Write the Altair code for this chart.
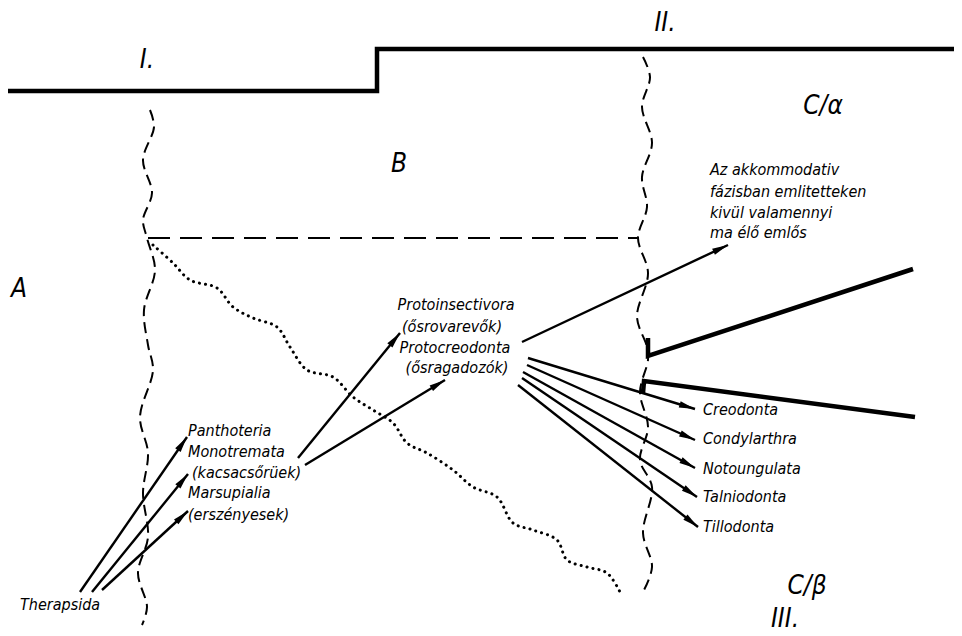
import altair as alt
import pandas as pd
import numpy as np

# ---------------- diagram data (x to the right, y downward) ----------------
step_x = [5, 377, 377, 957]
step_y = [91, 91, 49, 49]

bound1_x = [150, 154, 143, 152, 143, 147, 155, 144, 148, 153, 140, 148, 143, 148, 138, 147, 142]
bound1_y = [110, 127, 160, 193, 220, 238, 270, 310, 345, 370, 417, 453, 493, 537, 573, 607, 625]

bound2_x = [643, 650, 642, 652, 642, 647, 638, 648, 637, 647, 648, 640, 648, 640, 652, 643, 652, 643]
bound2_y = [57, 77, 107, 143, 177, 207, 238, 273, 317, 347, 360, 392, 427, 460, 487, 533, 567, 592]

hdash_x = [148, 638]
hdash_y = [238, 238]

dot_x = [153, 173, 190, 217, 233, 253, 277, 290, 307, 333, 353, 373, 393, 407, 427, 453, 473, 497,
         513, 533, 557, 567, 587, 607, 620]
dot_y = [245, 263, 280, 288, 307, 318, 327, 347, 370, 377, 397, 410, 423, 443, 453, 470, 487, 497,
         523, 530, 540, 560, 567, 573, 592]

arrow_x1 = [80, 92, 102, 298, 305, 522, 528, 527, 523, 522, 518]
arrow_y1 = [592, 592, 590, 458, 465, 342, 358, 365, 372, 378, 385]
arrow_x2 = [187, 188, 188, 400, 445, 728, 695, 695, 695, 697, 698]
arrow_y2 = [437, 474, 511, 333, 380, 245, 409, 440, 468, 497, 527]

thick_seg = [0, 0, 0, 1, 1, 1]
thick_x = [648, 648, 913, 643, 644, 915]
thick_y = [338, 356, 269, 393, 381, 417]

small_text = ["Therapsida",
              "Panthoteria", "Monotremata", "(kacsacsőrüek)", "Marsupialia", "(erszényesek)",
              "Az akkommodativ", "fázisban emlitetteken", "kivül valamennyi", "ma élő emlős",
              "Creodonta", "Condylarthra", "Notoungulata", "Talniodonta", "Tillodonta"]
small_x = [20, 188, 188, 192, 188, 188, 710, 710, 710, 710, 703, 703, 703, 703, 703]
small_y = [605, 431, 452, 473, 493, 515, 170, 192, 213, 233, 410, 439, 469, 497, 527]

center_text = ["Protoinsectivora", "(ősrovarevők)", "Protocreodonta", "(ősragadozók)"]
center_x = [456, 452, 455, 457]
center_y = [305, 327, 348, 368]

big_text = ["I.", "II.", "III.", "A", "B", "C/α", "C/β"]
big_x = [147, 665, 785, 19, 399, 823, 807]
big_y = [60, 23, 619, 289, 164, 106, 586]

# ---------------- scales ----------------
W, H = 946, 626
xs = alt.Scale(domain=[8, 8 + W], nice=False, zero=False)
ys = alt.Scale(domain=[8, 8 + H], nice=False, zero=False, reverse=True)
X = lambda f: alt.X(f, type="quantitative", scale=xs, axis=None)
Y = lambda f: alt.Y(f, type="quantitative", scale=ys, axis=None)
X2 = lambda f: alt.X2(f)
Y2 = lambda f: alt.Y2(f)


def path_df(xv, yv):
    return pd.DataFrame({"x": xv, "y": yv, "i": list(range(len(xv)))})


step = alt.Chart(path_df(step_x, step_y)).mark_line(
    color="black", strokeWidth=4.5, strokeJoin="miter"
).encode(x=X("x"), y=Y("y"), order="i:Q")

bound1 = alt.Chart(path_df(bound1_x, bound1_y)).mark_line(
    color="black", strokeWidth=2, strokeDash=[11, 6], interpolate="catmull-rom"
).encode(x=X("x"), y=Y("y"), order="i:Q")

bound2 = alt.Chart(path_df(bound2_x, bound2_y)).mark_line(
    color="black", strokeWidth=2, strokeDash=[11, 6], interpolate="catmull-rom"
).encode(x=X("x"), y=Y("y"), order="i:Q")

hdash = alt.Chart(path_df(hdash_x, hdash_y)).mark_line(
    color="black", strokeWidth=2, strokeDash=[22, 10]
).encode(x=X("x"), y=Y("y"), order="i:Q")

dotted = alt.Chart(path_df(dot_x, dot_y)).mark_line(
    color="black", strokeWidth=3, strokeDash=[0.1, 6], strokeCap="round", interpolate="catmull-rom"
).encode(x=X("x"), y=Y("y"), order="i:Q")

ax1, ay1, ax2, ay2 = map(np.array, (arrow_x1, arrow_y1, arrow_x2, arrow_y2))
arrows = pd.DataFrame({"x1": ax1, "y1": ay1, "x2": ax2, "y2": ay2})
arrows["ang"] = np.mod(np.degrees(np.arctan2(ax2 - ax1, -(ay2 - ay1))), 360)

shafts = alt.Chart(arrows).mark_rule(color="black", strokeWidth=2.4).encode(
    x=X("x1"), y=Y("y1"), x2=X2("x2"), y2=Y2("y2"))

heads = alt.Chart(arrows).mark_point(
    shape="M0,0 L0.33,1.6 L-0.33,1.6 Z", filled=True, color="black", opacity=1, size=400
).encode(x=X("x2"), y=Y("y2"), angle=alt.Angle("ang:Q", scale=None))

thick = alt.Chart(pd.DataFrame({"seg": thick_seg, "x": thick_x, "y": thick_y,
                                "i": list(range(len(thick_x)))})).mark_line(
    color="black", strokeWidth=4.5, strokeJoin="miter"
).encode(x=X("x"), y=Y("y"), detail="seg:N", order="i:Q")

FONT = "DejaVu Sans Condensed, Roboto, sans-serif"

small = alt.Chart(pd.DataFrame({"t": small_text, "x": small_x, "y": small_y})).mark_text(
    font=FONT, fontStyle="italic", fontSize=16, align="left", baseline="middle", color="black"
).encode(x=X("x"), y=Y("y"), text="t:N")

center = alt.Chart(pd.DataFrame({"t": center_text, "x": center_x, "y": center_y})).mark_text(
    font=FONT, fontStyle="italic", fontSize=16, align="center", baseline="middle", color="black"
).encode(x=X("x"), y=Y("y"), text="t:N")

big = alt.Chart(pd.DataFrame({"t": big_text, "x": big_x, "y": big_y})).mark_text(
    font=FONT, fontStyle="italic", fontSize=26, align="center", baseline="middle", color="black"
).encode(x=X("x"), y=Y("y"), text="t:N")

chart = alt.layer(step, bound1, bound2, hdash, dotted, shafts, heads, thick, small, center, big).properties(
    width=W, height=H, padding=0, background="white",
    autosize=alt.AutoSizeParams(type="none")
).configure_view(stroke=None)

chart.save("out.html", embed_options={"renderer": "svg", "actions": False})
